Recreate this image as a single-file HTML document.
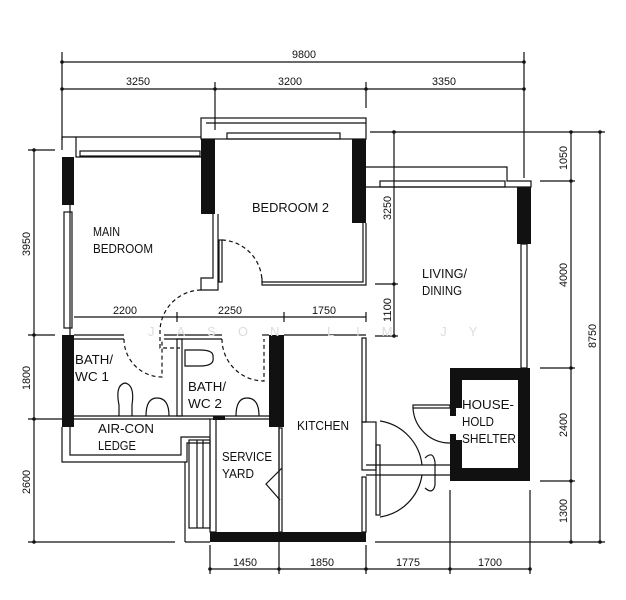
<!DOCTYPE html>
<html><head><meta charset="utf-8"><style>
html,body{margin:0;padding:0;background:#fff;}
svg{display:block;}
text{font-family:"Liberation Sans",sans-serif;fill:#111;}
</style></head><body>
<svg width="626" height="600" viewBox="0 0 626 600" xmlns="http://www.w3.org/2000/svg">
<g stroke="#111" stroke-width="1.2" fill="none">
<!-- top dimensions -->
<line x1="62" y1="62" x2="524" y2="62"/>
<line x1="62" y1="89" x2="524" y2="89"/>
<line x1="62" y1="52" x2="62" y2="140"/>
<line x1="524" y1="52" x2="524" y2="178"/>
<line x1="215" y1="82" x2="215" y2="130"/>
<line x1="366" y1="82" x2="366" y2="108"/>
<!-- left dims -->
<line x1="34" y1="150" x2="34" y2="542"/>
<line x1="28" y1="150" x2="55" y2="150"/>
<line x1="28" y1="335" x2="55" y2="335"/>
<line x1="28" y1="419" x2="62" y2="419"/>
<line x1="28" y1="542" x2="175" y2="542"/>
<!-- right dims -->
<line x1="370" y1="132" x2="605" y2="132"/>
<line x1="571" y1="132" x2="571" y2="542"/>
<line x1="600" y1="132" x2="600" y2="542"/>
<line x1="540" y1="181" x2="575" y2="181"/>
<line x1="540" y1="368" x2="575" y2="368"/>
<line x1="540" y1="481" x2="575" y2="481"/>
<line x1="375" y1="542" x2="605" y2="542"/>
<line x1="394" y1="132" x2="394" y2="336"/>
<line x1="375" y1="284" x2="398" y2="284"/>
<line x1="375" y1="336" x2="398" y2="336"/>
<!-- inner dim -->
<line x1="74" y1="317" x2="366" y2="317"/>
<line x1="177" y1="312" x2="177" y2="322"/>
<line x1="284" y1="312" x2="284" y2="322"/>
<line x1="366" y1="312" x2="366" y2="322"/>
<!-- bottom dims -->
<line x1="210" y1="569" x2="530" y2="569"/>
<line x1="210" y1="545" x2="210" y2="574"/>
<line x1="279" y1="420" x2="279" y2="574"/>
<line x1="366" y1="545" x2="366" y2="574"/>
<line x1="450" y1="490" x2="450" y2="574"/>
<line x1="530" y1="490" x2="530" y2="574"/>
<!-- main bedroom frame -->
<polyline points="62,150 62,137 76,137 76,157 201,157"/>
<polyline points="76,137 201,137"/>
<rect x="80" y="151" width="120" height="5"/>
<rect x="64" y="212" width="8" height="116"/>
<line x1="70" y1="205" x2="70" y2="335"/>
<!-- bedroom 2 frame -->
<rect x="201" y="118" width="165" height="21"/>
<line x1="206" y1="123" x2="366" y2="123"/>
<rect x="227" y="133" width="113" height="6"/>
<polyline points="363,223 363,282 262,282"/>
<polyline points="366,223 366,285 262,285 262,278"/>
<polyline points="213,214 213,278 201,278 201,290 218,290 218,214"/>
<!-- bedroom 2 door -->
<rect x="219" y="240" width="3" height="42"/>
<path d="M222 240 A42 42 0 0 1 262 282" stroke-dasharray="4 3"/>
<path d="M201 290 A42 42 0 0 0 160 330 L160 348 L180 348" stroke-dasharray="4 3"/>
<!-- living frame -->
<polyline points="366,167 507,167 507,181 531,181 531,187 366,187"/>
<rect x="380" y="181" width="125" height="6"/>
<rect x="521" y="244" width="6" height="124"/>
<!-- bath -->
<line x1="74" y1="335" x2="124" y2="335"/>
<line x1="74" y1="339" x2="124" y2="339"/>
<line x1="164" y1="335" x2="222" y2="335"/>
<line x1="164" y1="339" x2="222" y2="339"/>
<line x1="262" y1="335" x2="269" y2="335"/>
<rect x="177" y="339" width="5" height="77"/>
<line x1="74" y1="416" x2="269" y2="416"/>
<line x1="74" y1="419" x2="210" y2="419"/>
<path d="M124 339 A38 38 0 0 0 162 377 L162 339" stroke-dasharray="4 3"/>
<path d="M222 339 A42 42 0 0 0 264 381 L264 339" stroke-dasharray="4 3"/>
<!-- toilets/basins -->
<path d="M119 416 L119 405 Q115 385 125 383 Q135 385 132 405 L132 416"/>
<path d="M146 416 Q146 398 157 398 Q169 398 169 416"/>
<path d="M185 350 L185 366 L200 366 Q215 366 213 357 Q214 350 200 350 Z"/>
<path d="M236 416 Q236 398 247 398 Q259 398 259 416"/>
<!-- air-con ledge -->
<polyline points="62,427 62,462 187,462 187,443 210,443"/>
<polyline points="70,427 70,455 181,455 181,437 210,437"/>
<rect x="189" y="440" width="21" height="88"/>
<line x1="197" y1="440" x2="197" y2="528"/>
<line x1="203" y1="440" x2="203" y2="528"/>
<line x1="185" y1="462" x2="185" y2="542"/>
<line x1="185" y1="542" x2="210" y2="542"/>
<!-- kitchen -->
<line x1="284" y1="335" x2="366" y2="335"/>
<rect x="362" y="338" width="4" height="84"/>
<rect x="362" y="477" width="4" height="55"/>
<rect x="210" y="419" width="6" height="113"/>
<line x1="216" y1="419" x2="269" y2="419"/>
<rect x="279" y="428" width="3" height="104"/>
<polyline points="282,468 266,484 280,500"/>
<rect x="362" y="422" width="14" height="48"/>
<!-- entrance -->
<line x1="366" y1="465" x2="450" y2="465"/>
<line x1="366" y1="475" x2="450" y2="475"/>
<rect x="376" y="445" width="4" height="70"/>
<path d="M380 421 A50 50 0 0 1 422 465" />
<path d="M380 517 A50 50 0 0 0 422 475"/>
<rect x="413" y="405" width="37" height="3"/>
<path d="M413 408 A37 37 0 0 0 450 443"/>
<path d="M425 458 Q433 450 435 462 L435 485 Q433 495 425 488"/>
</g>
<!-- black walls -->
<g fill="#111">
<rect x="62" y="157" width="12" height="48"/>
<rect x="201" y="139" width="14" height="75"/>
<rect x="352" y="139" width="14" height="84"/>
<rect x="517" y="187" width="14" height="57"/>
<rect x="62" y="335" width="12" height="92"/>
<rect x="269" y="335" width="15" height="92"/>
<rect x="210" y="532" width="156" height="10"/>
<rect x="213" y="416" width="12" height="4"/>
<path d="M450 368 H530 V481 H450 V440 H462 V468 H518 V380 H462 V408 H450 Z"/>
<rect x="450" y="408" width="6" height="32"/>
</g>
<rect x="450" y="416" width="8" height="18" fill="#fff"/>
<!-- dots -->
<g fill="#111">
<circle cx="62" cy="62" r="1.8"/><circle cx="524" cy="62" r="1.8"/>
<circle cx="62" cy="89" r="1.8"/><circle cx="215" cy="89" r="1.8"/><circle cx="366" cy="89" r="1.8"/><circle cx="524" cy="89" r="1.8"/>
<circle cx="34" cy="150" r="1.8"/><circle cx="34" cy="335" r="1.8"/><circle cx="34" cy="419" r="1.8"/><circle cx="34" cy="542" r="1.8"/>
<circle cx="571" cy="132" r="1.8"/><circle cx="571" cy="181" r="1.8"/><circle cx="571" cy="368" r="1.8"/><circle cx="571" cy="481" r="1.8"/><circle cx="571" cy="542" r="1.8"/>
<circle cx="600" cy="132" r="1.8"/><circle cx="600" cy="542" r="1.8"/>
<circle cx="394" cy="132" r="1.8"/><circle cx="394" cy="284" r="1.8"/><circle cx="394" cy="336" r="1.8"/>
<circle cx="210" cy="569" r="1.8"/><circle cx="279" cy="569" r="1.8"/><circle cx="366" cy="569" r="1.8"/><circle cx="450" cy="569" r="1.8"/><circle cx="530" cy="569" r="1.8"/>
</g>
<!-- dimension text -->
<g font-size="11">
<text x="292" y="58" textLength="24" lengthAdjust="spacingAndGlyphs">9800</text>
<text x="126" y="85" textLength="24" lengthAdjust="spacingAndGlyphs">3250</text>
<text x="278" y="85" textLength="24" lengthAdjust="spacingAndGlyphs">3200</text>
<text x="432" y="85" textLength="24" lengthAdjust="spacingAndGlyphs">3350</text>
<text x="113" y="314" textLength="24" lengthAdjust="spacingAndGlyphs">2200</text>
<text x="218" y="314" textLength="24" lengthAdjust="spacingAndGlyphs">2250</text>
<text x="312" y="314" textLength="24" lengthAdjust="spacingAndGlyphs">1750</text>
<text x="233" y="566" textLength="24" lengthAdjust="spacingAndGlyphs">1450</text>
<text x="310" y="566" textLength="24" lengthAdjust="spacingAndGlyphs">1850</text>
<text x="396" y="566" textLength="24" lengthAdjust="spacingAndGlyphs">1775</text>
<text x="478" y="566" textLength="24" lengthAdjust="spacingAndGlyphs">1700</text>
<text transform="translate(30,256) rotate(-90)" textLength="24" lengthAdjust="spacingAndGlyphs">3950</text>
<text transform="translate(30,390) rotate(-90)" textLength="24" lengthAdjust="spacingAndGlyphs">1800</text>
<text transform="translate(30,494) rotate(-90)" textLength="24" lengthAdjust="spacingAndGlyphs">2600</text>
<text transform="translate(567,170) rotate(-90)" textLength="24" lengthAdjust="spacingAndGlyphs">1050</text>
<text transform="translate(567,287) rotate(-90)" textLength="24" lengthAdjust="spacingAndGlyphs">4000</text>
<text transform="translate(567,437) rotate(-90)" textLength="24" lengthAdjust="spacingAndGlyphs">2400</text>
<text transform="translate(567,523) rotate(-90)" textLength="24" lengthAdjust="spacingAndGlyphs">1300</text>
<text transform="translate(596,348) rotate(-90)" textLength="24" lengthAdjust="spacingAndGlyphs">8750</text>
<text transform="translate(391,220) rotate(-90)" textLength="24" lengthAdjust="spacingAndGlyphs">3250</text>
<text transform="translate(391,322) rotate(-90)" textLength="24" lengthAdjust="spacingAndGlyphs">1100</text>
</g>
<!-- room labels -->
<g font-size="13">
<text x="93" y="236" textLength="27" lengthAdjust="spacingAndGlyphs">MAIN</text>
<text x="93" y="253" textLength="60" lengthAdjust="spacingAndGlyphs">BEDROOM</text>
<text x="252" y="212" textLength="77" lengthAdjust="spacingAndGlyphs">BEDROOM 2</text>
<text x="422" y="278" textLength="45" lengthAdjust="spacingAndGlyphs">LIVING/</text>
<text x="422" y="295" textLength="40" lengthAdjust="spacingAndGlyphs">DINING</text>
<text x="75" y="364" textLength="38" lengthAdjust="spacingAndGlyphs">BATH/</text>
<text x="75" y="381" textLength="34" lengthAdjust="spacingAndGlyphs">WC 1</text>
<text x="188" y="391" textLength="38" lengthAdjust="spacingAndGlyphs">BATH/</text>
<text x="188" y="408" textLength="34" lengthAdjust="spacingAndGlyphs">WC 2</text>
<text x="98" y="433" textLength="56" lengthAdjust="spacingAndGlyphs">AIR-CON</text>
<text x="98" y="450" textLength="38" lengthAdjust="spacingAndGlyphs">LEDGE</text>
<text x="297" y="430" textLength="52" lengthAdjust="spacingAndGlyphs">KITCHEN</text>
<text x="222" y="461" textLength="50" lengthAdjust="spacingAndGlyphs">SERVICE</text>
<text x="222" y="478" textLength="32" lengthAdjust="spacingAndGlyphs">YARD</text>
<text x="462" y="409" textLength="52" lengthAdjust="spacingAndGlyphs">HOUSE-</text>
<text x="462" y="426" textLength="32" lengthAdjust="spacingAndGlyphs">HOLD</text>
<text x="462" y="443" textLength="54" lengthAdjust="spacingAndGlyphs">SHELTER</text>
</g>
<text x="148" y="336" font-size="13" fill="#ddd" style="fill:#ddd" letter-spacing="22">JASON LIM JY</text>
</svg>
</body></html>
